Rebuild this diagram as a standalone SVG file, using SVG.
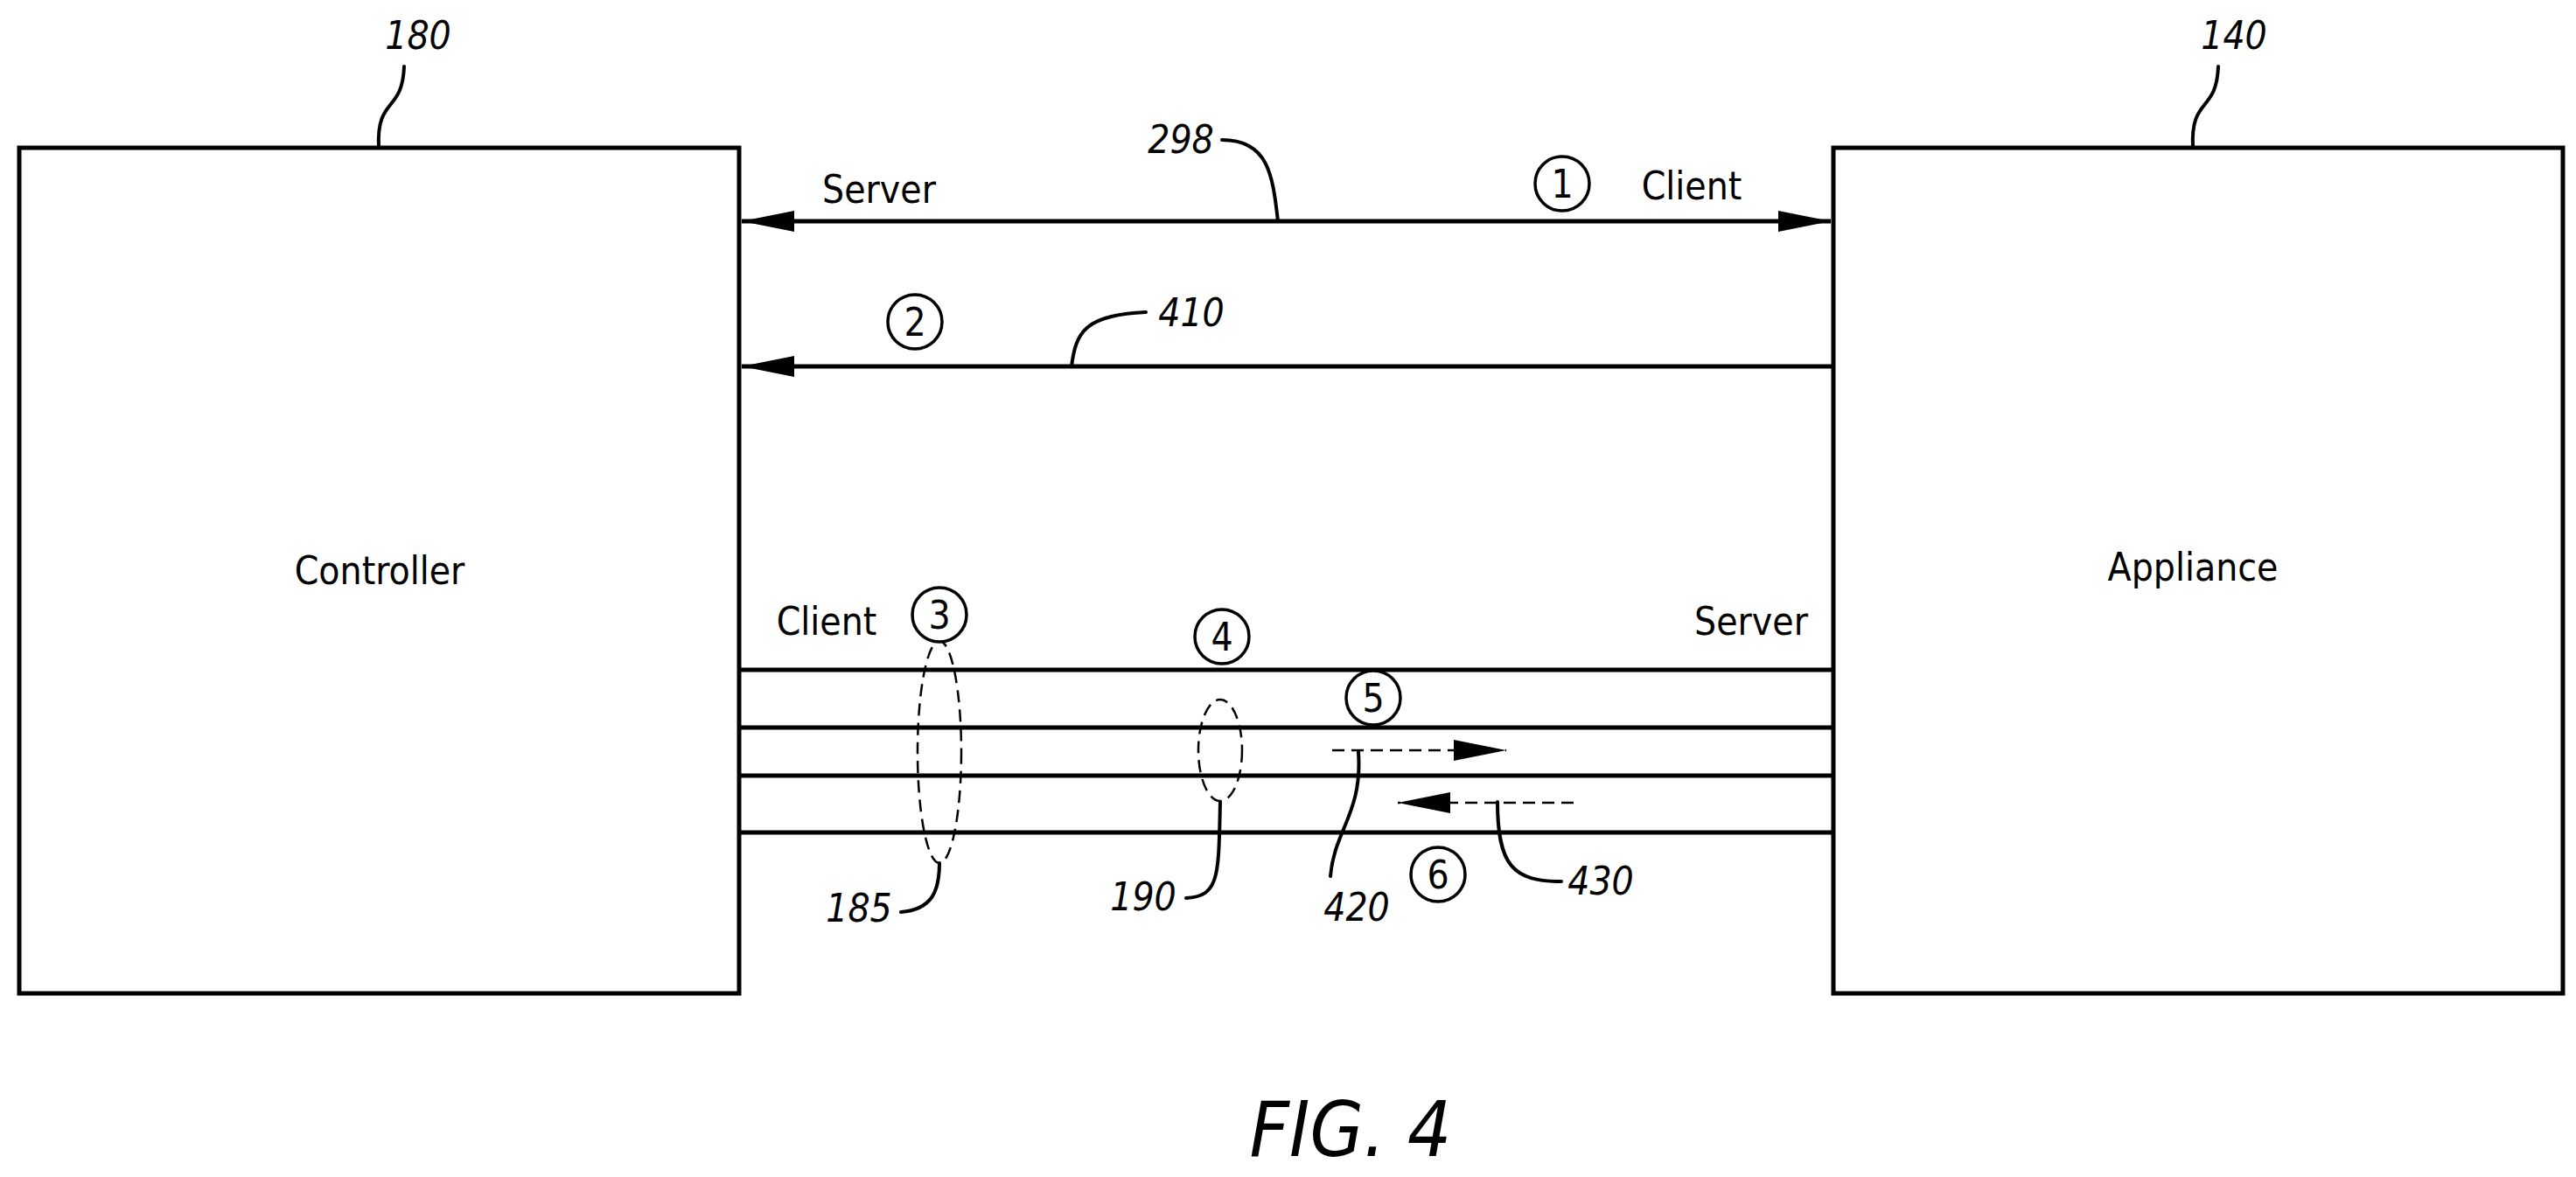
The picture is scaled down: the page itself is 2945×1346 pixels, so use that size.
<svg xmlns="http://www.w3.org/2000/svg" width="2945" height="1346" viewBox="0 0 2945 1346">
<style>
.b{fill:none;stroke:#000;stroke-width:5}
.l{fill:none;stroke:#000;stroke-width:5}
.ld{fill:none;stroke:#000;stroke-width:4;stroke-linecap:round}
.d{fill:none;stroke:#000;stroke-width:2.5;stroke-dasharray:14 8}
.t{font-family:"DejaVu Sans Condensed","DejaVu Sans",sans-serif;font-size:44px;text-anchor:middle}
.n{font-family:"DejaVu Sans Condensed","DejaVu Sans",sans-serif;font-size:44px;font-style:italic;text-anchor:middle}
.c{fill:#fff;stroke:#000;stroke-width:3.5}
</style>
<defs>
<marker id="a" viewBox="0 0 10 10" refX="10" refY="5" markerWidth="12" markerHeight="9" markerUnits="userSpaceOnUse" orient="auto-start-reverse" preserveAspectRatio="none"><path d="M0,0L10,5L0,10z"/></marker>
<marker id="A" viewBox="0 0 10 10" refX="10" refY="5" markerWidth="60" markerHeight="24" markerUnits="userSpaceOnUse" orient="auto-start-reverse" preserveAspectRatio="none"><path d="M0,0L10,5L0,10z"/></marker>
</defs>
<g id="controller"><rect class="b" x="22" y="169" width="823" height="967"/><text class="t" x="434" y="668">Controller</text></g>
<g id="appliance"><rect class="b" x="2096" y="169" width="834" height="967"/><text class="t" x="2507" y="664">Appliance</text></g>
<g id="connectors">
<line class="l" x1="848" y1="253" x2="2093" y2="253" marker-start="url(#A)" marker-end="url(#A)"/>
<line class="l" x1="2096" y1="419" x2="848" y2="419" marker-end="url(#A)"/>
<line class="l" x1="845" y1="766" x2="2096" y2="766"/>
<line class="l" x1="845" y1="832" x2="2096" y2="832"/>
<line class="l" x1="845" y1="887" x2="2096" y2="887"/>
<line class="l" x1="845" y1="952" x2="2096" y2="952"/>
<line class="d" x1="1523" y1="858" x2="1722" y2="858" marker-end="url(#A)"/>
<line class="d" x1="1799" y1="918" x2="1598" y2="918" marker-end="url(#A)"/>
<ellipse class="d" cx="1074" cy="860" rx="25" ry="127"/>
<ellipse class="d" cx="1395" cy="858" rx="25" ry="58"/>
</g>
<g id="labels">
<text class="t" x="1005" y="232">Server</text>
<text class="t" x="1934" y="228">Client</text>
<text class="t" x="945" y="726">Client</text>
<text class="t" x="2002" y="726">Server</text>
<g id="c1"><circle class="c" cx="1786" cy="210" r="31"/><text class="t" x="1786" y="226">1</text></g>
<g id="c2"><circle class="c" cx="1046" cy="368" r="31"/><text class="t" x="1046" y="384">2</text></g>
<g id="c3"><circle class="c" cx="1074" cy="703" r="31"/><text class="t" x="1074" y="719">3</text></g>
<g id="c4"><circle class="c" cx="1397" cy="728" r="31"/><text class="t" x="1397" y="744">4</text></g>
<g id="c5"><circle class="c" cx="1570" cy="798" r="31"/><text class="t" x="1570" y="814">5</text></g>
<g id="c6"><circle class="c" cx="1644" cy="1000" r="31"/><text class="t" x="1644" y="1016">6</text></g>
</g>
<g id="refs">
<text class="n" x="478" y="56">180</text>
<path class="ld" d="M433,169 C430,110 460,130 462,76"/>
<text class="n" x="2554" y="56">140</text>
<path class="ld" d="M2507,169 C2504,110 2534,130 2536,76"/>
<text class="n" x="1350" y="175">298</text>
<path class="ld" d="M1397,160 C1450,160 1455,200 1461,253"/>
<text class="n" x="1362" y="373">410</text>
<path class="ld" d="M1225,419 C1230,380 1240,360 1310,357"/>
<text class="n" x="982" y="1054">185</text>
<path class="ld" d="M1074,987 C1074,1020 1065,1040 1030,1043"/>
<text class="n" x="1307" y="1041">190</text>
<path class="ld" d="M1395,917 C1393,1000 1395,1025 1356,1027"/>
<text class="n" x="1551" y="1053">420</text>
<path class="ld" d="M1553,860 C1558,930 1525,950 1521,1002"/>
<text class="n" x="1830" y="1023">430</text>
<path class="ld" d="M1712,917 C1712,990 1730,1008 1785,1008"/>
</g>
<text x="1544" y="1322" style="font-family:'DejaVu Sans Condensed','DejaVu Sans',sans-serif;font-size:88px;font-style:italic;text-anchor:middle">FIG. 4</text>
</svg>
